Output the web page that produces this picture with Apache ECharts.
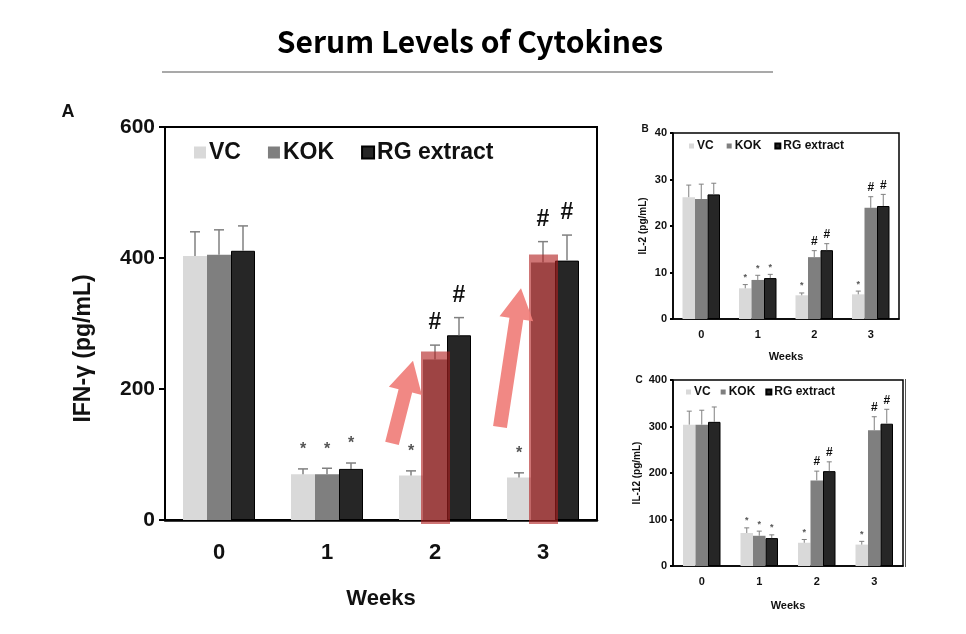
<!DOCTYPE html>
<html>
<head>
<meta charset="utf-8">
<title>Serum Levels of Cytokines</title>
<script src="https://cdn.jsdelivr.net/npm/echarts@6/dist/echarts.min.js"></script>
<style>
  html, body { margin: 0; padding: 0; background: #fff; }
  #main { width: 966px; height: 634px; }
</style>
</head>
<body>
<div id="main"></div>
<script>
// x axis categories and the three groups
const weeks = ['0', '1', '2', '3'];
const groups = ['VC', 'KOK', 'RG extract'];

// A: IFN-γ (pg/mL), means and error (SD)
const ifnVC = [403, 70, 68, 65];
const ifnKOK = [405, 70, 245, 393];
const ifnRG = [411, 78, 282, 396];
const ifnVCErr = [37, 8, 7, 7];
const ifnKOKErr = [38, 9, 22, 32];
const ifnRGErr = [38, 9, 27, 39];

// B: IL-2 (pg/mL)
const il2VC = [26.2, 6.6, 5.1, 5.3];
const il2KOK = [25.8, 8.4, 13.3, 23.9];
const il2RG = [26.8, 8.8, 14.8, 24.3];
const il2VCErr = [2.6, 0.8, 0.5, 0.7];
const il2KOKErr = [3.2, 1.0, 1.4, 2.4];
const il2RGErr = [2.4, 0.8, 1.4, 2.5];

// C: IL-12 (pg/mL)
const il12VC = [304, 71, 50, 46];
const il12KOK = [304, 65, 184, 292];
const il12RG = [310, 60, 204, 306];
const il12VCErr = [29, 11, 7, 7];
const il12KOKErr = [31, 10, 20, 29];
const il12RGErr = [32, 7, 20, 31];

// significance marks above the error bars
const marksVC = ['', '*', '*', '*'];
const marksKOK = ['', '*', '#', '#'];
const marksRG = ['', '*', '#', '#'];

// highlighted KOK bars in panel A (week index, arrow tail / tip on the y scale)
const hlWeeks = [2, 3];
const arrowTail = [117, 142];
const arrowTip = [243, 354];

const colors = ['#d9d9d9', '#7f7f7f', '#262626'];
const FONT = '"Liberation Sans", Arial, sans-serif';

const panels = [
  {
    vals: [ifnVC, ifnKOK, ifnRG], errs: [ifnVCErr, ifnKOKErr, ifnRGErr],
    grid: { left: 165, top: 127, width: 432, height: 393 },
    max: 600, interval: 200, yName: 'IFN-γ (pg/mL)', yNamePad: [0, 50, 0, 0],
    bw: 24, cap: 5, errW: 1.5, labelSize: 21, nameSize: 23, xLabelSize: 22,
    yNameGap: 70, xLabelMargin: 22, xNameGap: 68, weeksSize: 22,
    starGap: 22, hashGap: 22, starSize: 16, hashSize: 23,
    legend: { left: 194, top: 141, size: 23, icon: 12, gap: 27 }
  },
  {
    vals: [il2VC, il2KOK, il2RG], errs: [il2VCErr, il2KOKErr, il2RGErr],
    grid: { left: 673, top: 133, width: 226, height: 186 },
    max: 40, interval: 10, yName: 'IL-2 (pg/mL)', yNamePad: 0,
    bw: 12.5, cap: 2.5, errW: 1, labelSize: 11, nameSize: 10, xLabelSize: 11,
    yNameGap: 25, xLabelMargin: 10, xNameGap: 32, weeksSize: 11,
    starGap: 10, hashGap: 9, starSize: 9, hashSize: 12,
    legend: { left: 689, top: 140, size: 12, icon: 5, gap: 13 }
  },
  {
    vals: [il12VC, il12KOK, il12RG], errs: [il12VCErr, il12KOKErr, il12RGErr],
    grid: { left: 673, top: 380, width: 230, height: 186 },
    max: 400, interval: 100, yName: 'IL-12 (pg/mL)', yNamePad: 0,
    bw: 12.5, cap: 2.5, errW: 1, labelSize: 11, nameSize: 10, xLabelSize: 11,
    yNameGap: 31, xLabelMargin: 10, xNameGap: 34, weeksSize: 11,
    starGap: 10, hashGap: 9, starSize: 9, hashSize: 12,
    legend: { left: 686, top: 386, size: 12, icon: 5, gap: 10 }
  }
];

const marks = [marksVC, marksKOK, marksRG];

function errRender(p, slot) {
  return function (params, api) {
    const k = api.value(0);
    const base = api.coord([k, api.value(1)]);
    const top = api.coord([k, api.value(1) + api.value(2)]);
    const x = base[0] + (slot - 1) * p.bw;
    const line = { stroke: '#808080', lineWidth: p.errW };
    const kids = [
      { type: 'line', shape: { x1: x, y1: base[1], x2: x, y2: top[1] }, style: line },
      { type: 'line', shape: { x1: x - p.cap, y1: top[1], x2: x + p.cap, y2: top[1] }, style: line }
    ];
    const m = marks[slot][params.dataIndex];
    if (m) {
      const star = m === '*';
      kids.push({
        type: 'text', x: x, y: top[1] - (star ? p.starGap : p.hashGap) + (star ? 3 : 0),
        style: {
          text: m, textAlign: 'center', textVerticalAlign: 'middle',
          font: 'bold ' + (star ? p.starSize : p.hashSize) + 'px ' + FONT,
          fill: star ? '#555' : '#111'
        }
      });
    }
    return { type: 'group', children: kids };
  };
}

function highlightRender(p) {
  return function (params, api) {
    const k = api.value(0);
    const top = api.coord([k, api.value(1)]);
    const zero = api.coord([k, 0]);
    const barL = top[0] - p.bw / 2;
    const tail = [barL - 31, api.coord([k, api.value(2)])[1]];
    const tip = [barL - 10, api.coord([k, api.value(3)])[1]];
    const dx = tip[0] - tail[0], dy = tip[1] - tail[1];
    const len = Math.sqrt(dx * dx + dy * dy);
    const ux = dx / len, uy = dy / len, nx = -uy, ny = ux;
    const L = 31, hw = 17, sw = 7;
    const neck = [tip[0] - ux * L, tip[1] - uy * L];
    const pts = [
      [tail[0] + nx * sw, tail[1] + ny * sw],
      [neck[0] + nx * sw, neck[1] + ny * sw],
      [neck[0] + nx * hw, neck[1] + ny * hw],
      tip,
      [neck[0] - nx * hw, neck[1] - ny * hw],
      [neck[0] - nx * sw, neck[1] - ny * sw],
      [tail[0] - nx * sw, tail[1] - ny * sw]
    ];
    return {
      type: 'group',
      children: [
        {
          type: 'rect',
          shape: { x: barL - 2, y: top[1] - 8, width: p.bw + 5, height: zero[1] - top[1] + 12 },
          style: { fill: 'rgba(178,32,32,0.62)' }
        },
        { type: 'polygon', shape: { points: pts }, style: { fill: 'rgba(240,126,122,0.92)' } }
      ]
    };
  };
}

const grids = [], xAxes = [], yAxes = [], series = [], legends = [];
panels.forEach(function (p, i) {
  grids.push(Object.assign({ show: true, borderColor: '#000', borderWidth: i === 0 ? 2 : 1.5, backgroundColor: 'transparent' }, p.grid));
  xAxes.push({
    type: 'category', gridIndex: i, data: weeks,
    axisLine: { lineStyle: { color: '#000', width: i === 0 ? 2.5 : 1.5 } },
    axisTick: { show: false },
    axisLabel: { fontSize: p.xLabelSize, fontWeight: 'bold', color: '#111', margin: p.xLabelMargin, fontFamily: FONT },
    name: 'Weeks', nameLocation: 'middle', nameGap: p.xNameGap,
    nameTextStyle: { fontSize: p.weeksSize, fontWeight: 'bold', color: '#111', fontFamily: FONT }
  });
  yAxes.push({
    type: 'value', gridIndex: i, min: 0, max: p.max, interval: p.interval,
    axisLine: { show: true, lineStyle: { color: '#000', width: i === 0 ? 2 : 1.5 } },
    axisTick: { show: true, inside: false, length: i === 0 ? 6 : 3, lineStyle: { color: '#000', width: 2 } },
    splitLine: { show: false },
    axisLabel: { fontSize: p.labelSize, fontWeight: 'bold', color: '#111', margin: i === 0 ? 10 : 6, fontFamily: FONT },
    name: p.yName, nameLocation: 'middle', nameGap: p.yNameGap, nameRotate: 90,
    nameTextStyle: { fontSize: p.nameSize, fontWeight: 'bold', color: '#111', fontFamily: FONT, padding: p.yNamePad }
  });
  groups.forEach(function (g, s) {
    series.push({
      type: 'bar', name: g, xAxisIndex: i, yAxisIndex: i, data: p.vals[s],
      barWidth: p.bw, barGap: '0%', z: 2, silent: true,
      itemStyle: { color: colors[s], borderColor: s === 2 ? '#000' : colors[s], borderWidth: s === 2 ? 1 : 0 }
    });
  });
  groups.forEach(function (g, s) {
    series.push({
      type: 'custom', xAxisIndex: i, yAxisIndex: i, z: 3, silent: true,
      data: p.vals[s].map(function (v, k) { return [k, v, p.errs[s][k]]; }),
      renderItem: errRender(p, s)
    });
  });
  legends.push({
    data: groups, left: p.legend.left, top: p.legend.top, selectedMode: false,
    icon: 'rect', itemWidth: p.legend.icon, itemHeight: p.legend.icon, itemGap: p.legend.gap,
    padding: 0,
    textStyle: { fontSize: p.legend.size, fontWeight: 'bold', color: '#111', fontFamily: FONT, padding: [0, 0, 0, -2] }
  });
});

// red highlight boxes + arrows on panel A
series.push({
  type: 'custom', xAxisIndex: 0, yAxisIndex: 0, z: 5, silent: true,
  data: hlWeeks.map(function (w, j) { return [w, ifnKOK[w], arrowTail[j], arrowTip[j]]; }),
  renderItem: highlightRender(panels[0])
});

const chart = echarts.init(document.getElementById('main'));
chart.setOption({
  backgroundColor: '#fff',
  animation: false,
  grid: grids,
  xAxis: xAxes,
  yAxis: yAxes,
  legend: legends,
  series: series,
  graphic: [
    { type: 'text', x: 470, y: 42, style: { text: 'Serum Levels of Cytokines', textAlign: 'center', textVerticalAlign: 'middle', font: 'bold 30px "Noto Sans CJK KR", "Noto Sans", sans-serif', fill: '#000' } },
    { type: 'line', shape: { x1: 162, y1: 72, x2: 773, y2: 72 }, style: { stroke: '#8c8c8c', lineWidth: 1.5 } },
    { type: 'text', x: 68, y: 112, style: { text: 'A', textAlign: 'center', textVerticalAlign: 'middle', font: 'bold 18px ' + FONT, fill: '#111' } },
    { type: 'text', x: 645, y: 129, style: { text: 'B', textAlign: 'center', textVerticalAlign: 'middle', font: 'bold 10px ' + FONT, fill: '#111' } },
    { type: 'text', x: 639, y: 380, style: { text: 'C', textAlign: 'center', textVerticalAlign: 'middle', font: 'bold 10px ' + FONT, fill: '#111' } },
    { type: 'line', shape: { x1: 905.5, y1: 379, x2: 905.5, y2: 567 }, style: { stroke: '#555', lineWidth: 1 } }
  ]
});
</script>
</body>
</html>
